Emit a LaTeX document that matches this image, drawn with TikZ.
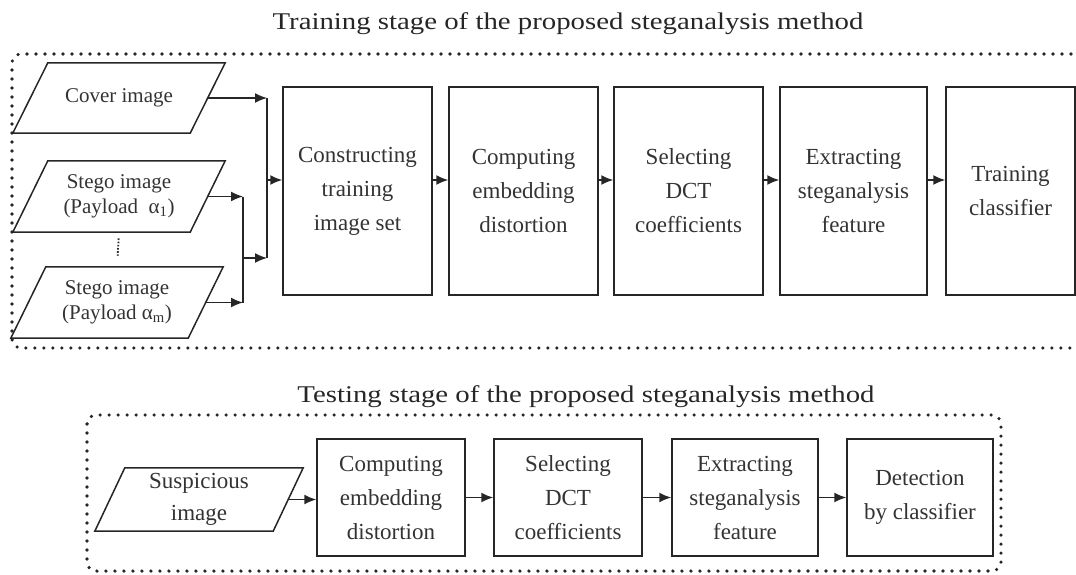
\documentclass[tikz,border=0pt]{standalone}
\usepackage{fontspec}
\setmainfont{Liberation Serif}
\usetikzlibrary{arrows.meta,calc}

% parallelogram drawn around a (borderless) text node
\newcommand\slantframe[2]{%
  \draw[edge] ([xshift=-#2]#1.south west) -- ([xshift=-#2]#1.south east)
    -- ([xshift=#2]#1.north east) -- ([xshift=#2]#1.north west) -- cycle;}

\tikzset{
  edge/.style={line width=1.5pt, draw=black!85},
  stagebox/.style={edge, draw, rectangle, inner sep=0pt, align=center,
    text=black!80, font=\fontsize{23}{34}\selectfont},
  bigbox/.style={stagebox, minimum height=208pt},
  smallbox/.style={stagebox, minimum height=117pt},
  imgnode/.style={inner sep=0pt, align=center, text=black!80,
    minimum width=177pt},
  frame/.style={line width=3.6pt, line cap=round, draw=black!85,
    dash pattern=on 0pt off 9pt, rounded corners=9pt},
  link/.style={edge, -{Latex[length=12pt,width=10pt]}},
  stagetitle/.style={anchor=base, text=black!85,
    font=\fontsize{24}{28}\selectfont},
}

\begin{document}
\begin{tikzpicture}[x=1pt,y=-1pt]
\useasboundingbox (0,0) rectangle (1076,574);

% ---------------- training stage ----------------
\node[stagetitle] (ttrain) at (568,29)
  {\scalebox{1.2}[1]{Training stage of the proposed steganalysis method}};
\draw[frame] (1080,54) -- (12,54) -- (12,348) -- (1080,348);

\node[imgnode, minimum height=70pt, font=\fontsize{21}{25}\selectfont]
  (cover) at (119,98) {Cover image};
\slantframe{cover}{17.5pt}
\node[imgnode, minimum height=71pt, font=\fontsize{21}{25}\selectfont]
  (s1) at (119,196.5) {Stego image\\(Payload\ \ α\textsubscript{1})};
\slantframe{s1}{17.5pt}
\node[imgnode, minimum height=71pt, font=\fontsize{21}{25}\selectfont]
  (sm) at (117,302.5) {Stego image\\(Payload α\textsubscript{m})};
\slantframe{sm}{17.5pt}
\draw[line width=1.8pt, dash pattern=on 1.6pt off 1.6pt, draw=black!85]
  ($(s1.south)!0.18!(sm.north)$) -- ($(s1.south)!0.68!(sm.north)$);

\node[bigbox, minimum width=149pt] (b1) at (357.5,191)
  {Constructing\\training\\image set};
\node[bigbox, minimum width=149pt] (b2) at (523.5,191)
  {Computing\\embedding\\distortion};
\node[bigbox, minimum width=149pt] (b3) at (688.5,191)
  {Selecting\\DCT\\coefficients};
\node[bigbox, minimum width=147pt] (b4) at (853.5,191)
  {Extracting\\steganalysis\\feature};
\node[bigbox, minimum width=129pt] (b5) at (1010.5,191)
  {Training\\classifier};

% merging the image inputs
\coordinate (jA) at (243,258);
\coordinate (jB) at (267,258);
\coordinate (in1) at ([yshift=11pt]b1.west);
\draw[link] (cover.east) -- (cover.east -| jB);
\draw[edge] (cover.east -| jB) -- (jB);
\draw[link] (s1.east) -- (s1.east -| jA);
\draw[link] (sm.east) -- (sm.east -| jA);
\draw[edge] (s1.east -| jA) -- (sm.east -| jA);
\draw[link] (jA) -- (jB);
\draw[link] (in1 -| jB) -- (in1);

% pipeline arrows
\foreach \a/\b in {b1/b2, b2/b3, b3/b4, b4/b5}
  \draw[link] ([yshift=11pt]\a.east) -- ([yshift=11pt]\b.west);

% ---------------- testing stage ----------------
\node[stagetitle] (ttest) at (586,402)
  {\scalebox{1.2}[1]{Testing stage of the proposed steganalysis method}};
\draw[frame] (87,415) rectangle (1001,571);

\node[imgnode, minimum width=178pt, minimum height=63pt,
  font=\fontsize{23}{32}\selectfont] (susp) at (199,499.5)
  {Suspicious\\image};
\slantframe{susp}{15pt}

\node[smallbox, minimum width=148pt] (c1) at (391,497.5)
  {Computing\\embedding\\distortion};
\node[smallbox, minimum width=148pt] (c2) at (568,497.5)
  {Selecting\\DCT\\coefficients};
\node[smallbox, minimum width=146pt] (c3) at (745,497.5)
  {Extracting\\steganalysis\\feature};
\node[smallbox, minimum width=146pt] (c4) at (920,497.5)
  {Detection\\by classifier};

\draw[link] (susp.east) -- (susp.east -| c1.west);
\foreach \a/\b in {c1/c2, c2/c3, c3/c4}
  \draw[link] (\a) -- (\b);
\end{tikzpicture}
\end{document}
